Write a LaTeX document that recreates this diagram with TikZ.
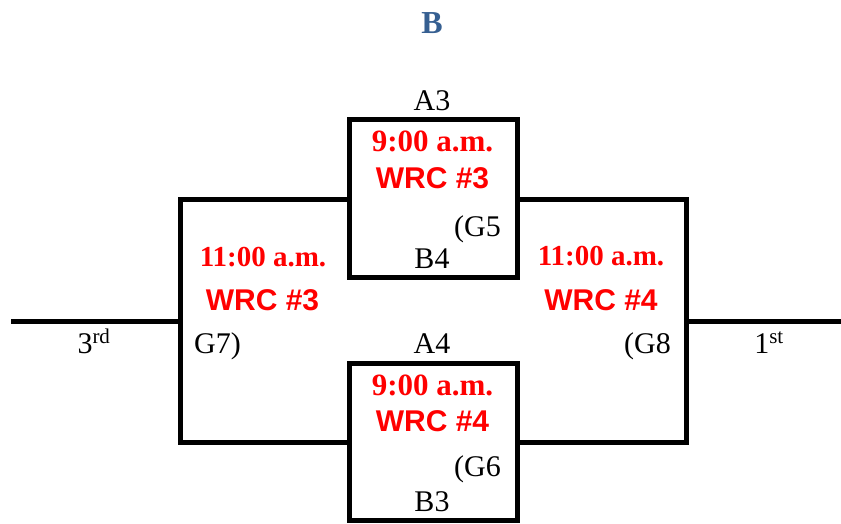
\documentclass[tikz,border=0pt]{standalone}
\usepackage{fontspec}
\setmainfont{Liberation Serif}
\newfontfamily\arialfont{Liberation Sans}
\definecolor{headblue}{RGB}{54,95,145}
\begin{document}
\begin{tikzpicture}[x=1pt,y=-1pt,
  bline/.style={line width=5pt, line cap=rect},
  plain/.style={anchor=base, inner sep=0pt, font=\fontsize{30}{30}\selectfont},
  timetxt/.style={anchor=base, inner sep=0pt, text=red, font=\fontsize{31}{31}\selectfont\bfseries},
  timetxtb/.style={anchor=base, inner sep=0pt, text=red, font=\fontsize{29}{29}\selectfont\bfseries},
  wrctxt/.style={anchor=base, inner sep=0pt, text=red, font=\fontsize{30}{30}\selectfont\arialfont\bfseries},
]
\useasboundingbox (0,0) rectangle (841,523);
% corners
\coordinate (tbNW) at (349,119.5);
\coordinate (tbSE) at (517,277);
\coordinate (bbNW) at (349,363.5);
\coordinate (bbSE) at (517,520.5);
\coordinate (lbT) at (349,199);
\coordinate (lbTL) at (180,199);
\coordinate (lbBL) at (180,442.5);
\coordinate (lbB) at (349,442.5);
\coordinate (rbT) at (517,199);
\coordinate (rbTR) at (686,199);
\coordinate (rbBR) at (686,442.5);
\coordinate (rbB) at (517,442.5);
\coordinate (lmid) at (180,321);
\coordinate (lend) at (11,321);
\coordinate (rmid) at (686,321);
\coordinate (rend) at (841,321);
% lines
\draw[bline] (tbNW) rectangle (tbSE);
\draw[bline] (bbNW) rectangle (bbSE);
\draw[bline] (lbT) -- (lbTL) -- (lbBL) -- (lbB);
\draw[bline] (rbT) -- (rbTR) -- (rbBR) -- (rbB);
\draw[bline, line cap=butt] (lend) -- (lmid);
\draw[bline, line cap=butt] (rmid) -- (rend);
% title
\node[anchor=base, inner sep=0pt, text=headblue, font=\fontsize{32}{32}\selectfont\bfseries] (title) at (432,33) {B};
% top box
\node[plain] (a3) at (432,110) {A3};
\node[timetxt] (t1) at (432.5,151.5) {9:00 a.m.};
\node[wrctxt] (w1) at (432.5,188) {WRC \#3};
\node[plain, anchor=base west] (g5) at (454,236.5) {(G5};
\node[plain] (b4) at (432,268) {B4};
% bottom box
\node[plain] (a4) at (432,353) {A4};
\node[timetxt] (t2) at (432.5,395) {9:00 a.m.};
\node[wrctxt] (w2) at (432.5,431.5) {WRC \#4};
\node[plain, anchor=base west] (g6) at (454,476.5) {(G6};
\node[plain] (b3) at (432,511.5) {B3};
% left bracket
\node[timetxtb] (t3) at (263,266) {11:00 a.m.};
\node[wrctxt] (w3) at (262.5,310) {WRC \#3};
\node[plain, anchor=base west] (g7) at (194,353) {G7)};
% right bracket
\node[timetxtb] (t4) at (601,265) {11:00 a.m.};
\node[wrctxt] (w4) at (601,310) {WRC \#4};
\node[plain, anchor=base east] (g8) at (671,353) {(G8};
% places
\node[plain] (third) at (94,353) {3\textsuperscript{rd}};
\node[plain] (first) at (769,353) {1\textsuperscript{st}};
\end{tikzpicture}
\end{document}
